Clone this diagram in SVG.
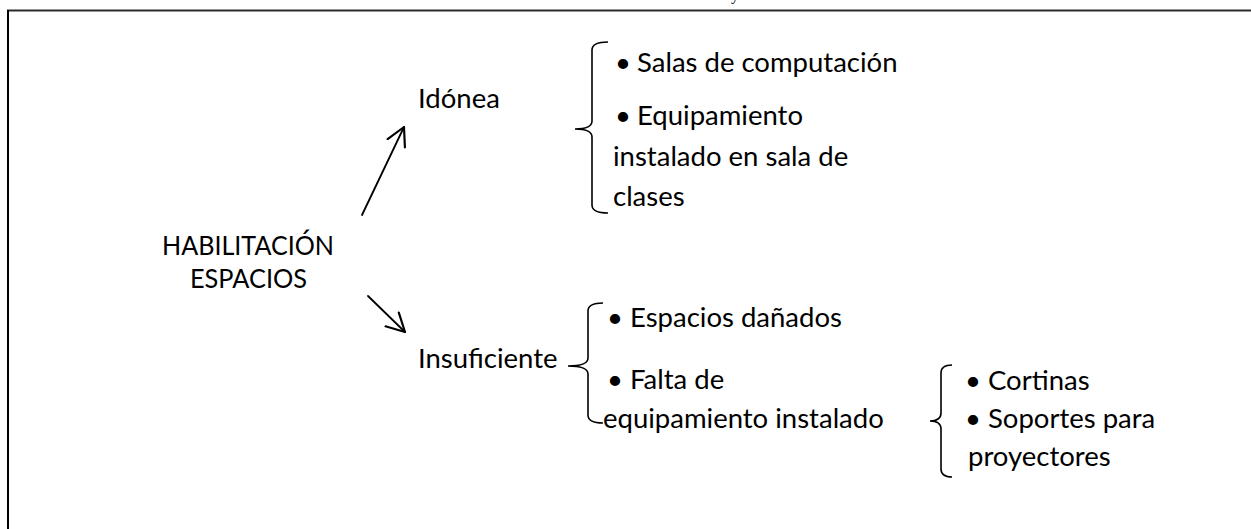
<svg xmlns="http://www.w3.org/2000/svg" width="1251" height="529" viewBox="0 0 1251 529">
<style>
.t{font-family:Lato,"Liberation Sans",sans-serif;font-size:27.5px;fill:#000}
.ln{stroke:#000;stroke-width:1.8;fill:none;stroke-linecap:round}
.br{stroke:#000;stroke-width:1.6;fill:none}
</style>
<defs>
<marker id="ah" markerUnits="userSpaceOnUse" markerWidth="24" markerHeight="24" refX="16" refY="10" viewBox="0 0 20 20" orient="auto">
<path d="M1,2 L16,10 L1,18" fill="none" stroke="#000" stroke-width="1.8" stroke-linecap="round" stroke-linejoin="round"/>
</marker>
</defs>
<rect width="1251" height="529" fill="#fff"/>
<g id="frame">
<line x1="7" y1="10.5" x2="1251" y2="10.5" stroke="#2a2a2a" stroke-width="2"/>
<line x1="8" y1="10" x2="8" y2="529" stroke="#000" stroke-width="2"/>
<text x="731" y="-0.5" font-family="Liberation Serif,serif" font-size="16">y</text>
</g>
<g id="connectors">
<line class="ln" x1="362" y1="215" x2="404" y2="127" marker-end="url(#ah)"/>
<line class="ln" x1="368" y1="296" x2="405" y2="332" marker-end="url(#ah)"/>
<path class="br" d="M608,42 Q592,42 592,50 L592,121 Q592,129 575,129 Q592,129 592,137 L592,205 Q592,213 608,213"/>
<path class="br" d="M603,303 Q588,303 588,311 L588,358 Q588,366 568,366 Q588,366 588,374 L588,415 Q588,423 603,423"/>
<path class="br" d="M952,365 Q941,365 941,373 L941,413 Q941,421 930,421 Q941,421 941,429 L941,469 Q941,477 952,477"/>
</g>
<g id="root">
<text class="t" x="162" y="255" textLength="172" lengthAdjust="spacingAndGlyphs">HABILITACIÓN</text>
<text class="t" x="190" y="288" textLength="117" lengthAdjust="spacingAndGlyphs">ESPACIOS</text>
</g>
<g id="idonea">
<text class="t" x="418" y="108">Idónea</text>
</g>
<g id="idonea-items">
<text class="t" x="623" y="72" text-anchor="middle">•</text>
<text class="t" x="637" y="72">Salas de computación</text>
<text class="t" x="623" y="125" text-anchor="middle">•</text>
<text class="t" x="637" y="125">Equipamiento</text>
<text class="t" x="613" y="166">instalado en sala de</text>
<text class="t" x="613" y="206">clases</text>
</g>
<g id="insuficiente">
<text class="t" x="418" y="368">Insuficiente</text>
</g>
<g id="insuficiente-items">
<text class="t" x="615" y="327" text-anchor="middle">•</text>
<text class="t" x="630" y="327">Espacios dañados</text>
<text class="t" x="615" y="389" text-anchor="middle">•</text>
<text class="t" x="630" y="389">Falta de</text>
<text class="t" x="603" y="428">equipamiento instalado</text>
</g>
<g id="falta-items">
<text class="t" x="973" y="390" text-anchor="middle">•</text>
<text class="t" x="988" y="390">Cortinas</text>
<text class="t" x="973" y="428" text-anchor="middle">•</text>
<text class="t" x="988" y="428">Soportes para</text>
<text class="t" x="968" y="466">proyectores</text>
</g>
</svg>
